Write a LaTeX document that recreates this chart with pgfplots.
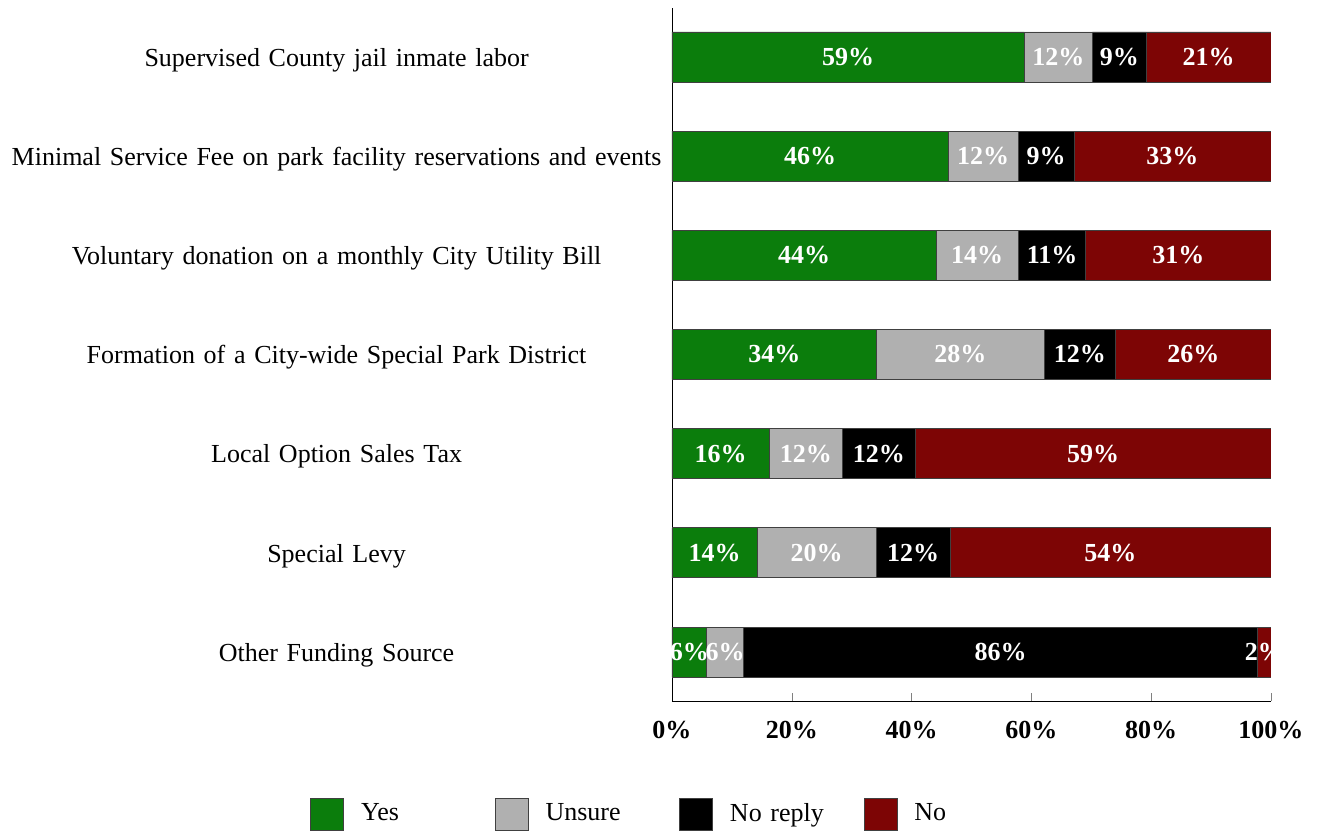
\documentclass[border=0pt]{standalone}
\usepackage{fontspec}
\setmainfont{Liberation Serif}
\usepackage{pgfplots}
\usepackage{pgfplotstable}
\pgfplotsset{compat=1.18}

\definecolor{cyes}{RGB}{11,125,12}
\definecolor{cunsure}{RGB}{176,176,176}
\definecolor{cnoreply}{RGB}{0,0,0}
\definecolor{cno}{RGB}{125,5,5}

% shares of each answer, with the rounded labels printed on the bars
\pgfplotstableread{
y yes  unsure noreply no   lyes lunsure lnoreply lno
6 58.8 11.4   9.0     20.8 59   12      9        21
5 46.1 11.7   9.3     32.9 46   12      9        33
4 44.1 13.7   11.3    30.9 44   14      11       31
3 34.2 27.9   12.0    25.9 34   28      12       26
2 16.2 12.3   12.1    59.4 16   12      12       59
1 14.2 19.9   12.3    53.6 14   20      12       54
0 5.8  6.1    85.9    2.2  6    6       86       2
}\funding

\pgfplotsset{
  common/.style={
    scale only axis,
    width=299.5pt, height=346.5pt,
    xmin=0, xmax=100,
    ymin=-0.494, ymax=6.494,
  },
  lbl/.style={
    draw=none, mark=none,
    point meta=explicit symbolic,
    nodes near coords={\pgfplotspointmeta\%},
    every node near coord/.append style={anchor=center, text=white,
      font=\fontsize{13}{15}\selectfont\bfseries, inner sep=0pt},
  },
}

\begin{document}
\fontsize{13}{15}\selectfont
\begin{tikzpicture}
\begin{axis}[
  common,
  xbar stacked,
  bar width=25pt,
  bar shift=0pt,
  axis x line*=bottom,
  axis y line*=left,
  xtick={0,20,40,60,80,100},
  xtick align=inside,
  major tick length=4pt,
  xticklabel={\pgfmathprintnumber{\tick}\%},
  xticklabel style={font=\fontsize{13}{15}\selectfont\bfseries, yshift=-5.5pt},
  /pgf/number format/assume math mode=true,
  ytick={0,1,2,3,4,5,6},
  yticklabels={
    Other Funding Source,
    Special Levy,
    Local Option Sales Tax,
    Formation of a City-wide Special Park District,
    Voluntary donation on a monthly City Utility Bill,
    Minimal Service Fee on park facility reservations and events,
    Supervised County jail inmate labor},
  ytick style={draw=none},
  yticklabel style={font=\fontsize{13}{15}\selectfont, text width=333pt, align=center, inner sep=0pt, xshift=-1pt, yshift=-1.5pt},
  legend columns=4,
  legend style={at={(0,0)}, anchor=west, xshift=-181pt, yshift=-56.5pt,
    draw=none, inner sep=0pt,
    font=\fontsize{13}{15}\selectfont,
    nodes={text width=55pt, align=left, inner sep=0pt},
    /tikz/every odd column/.append style={column sep=8.5pt},
    /tikz/every even column/.append style={column sep=11.8pt}},
  legend image code/.code={\draw[#1] (0pt,-8pt) rectangle (16.5pt,8pt);},
]
\addplot[fill=cyes, draw=black!75] table[x=yes, y=y] {\funding};
\addplot[fill=cunsure, draw=black!75] table[x=unsure, y=y] {\funding};
\addplot[fill=cnoreply, draw=black!75] table[x=noreply, y=y] {\funding};
\addplot[fill=cno, draw=black!75] table[x=no, y=y] {\funding};
\legend{Yes, Unsure, No reply, No}
\end{axis}
\begin{axis}[common, hide axis, clip=true]
\addplot[lbl] table[x expr=\thisrow{yes}/2, y=y, meta=lyes] {\funding};
\addplot[lbl] table[x expr=\thisrow{yes}+\thisrow{unsure}/2, y=y, meta=lunsure] {\funding};
\addplot[lbl] table[x expr=\thisrow{yes}+\thisrow{unsure}+\thisrow{noreply}/2, y=y, meta=lnoreply] {\funding};
\addplot[lbl] table[x expr=\thisrow{yes}+\thisrow{unsure}+\thisrow{noreply}+\thisrow{no}/2, y=y, meta=lno] {\funding};
\end{axis}
\path ([xshift=-336pt, yshift=4pt]current axis.north west);
\path ([xshift=24pt, yshift=-65pt]current axis.south east);
\end{tikzpicture}
\end{document}
